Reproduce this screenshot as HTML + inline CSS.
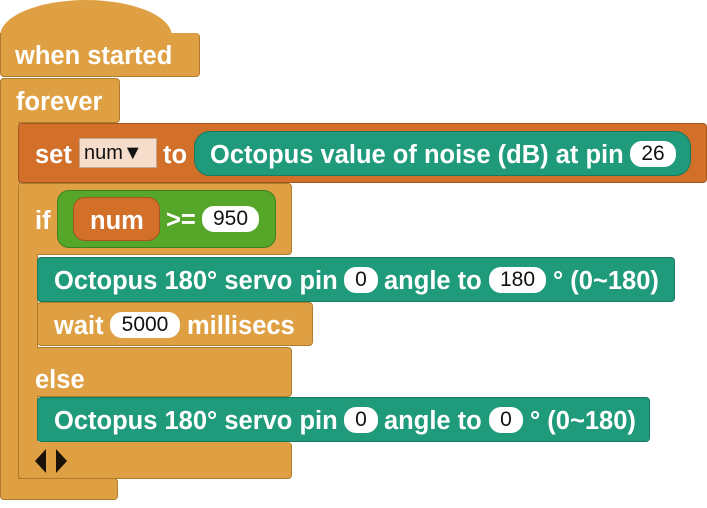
<!DOCTYPE html>
<html><head><meta charset="utf-8"><style>
body{margin:0;width:707px;height:508px;background:#fff;position:relative;overflow:hidden;font-family:"Liberation Sans",sans-serif;}
.b{position:absolute;box-sizing:border-box;}
.o{background:#DFA044;border:1px solid #B07B2C;border-radius:4px;}
.d{background:#D2702A;border:1px solid #A5561E;border-radius:4px;}
.t{background:#1F9A7A;border:1px solid #167A60;border-radius:4px;}
.t2{background:#1F9A7A;border:1px solid #167A60;border-radius:14px;}
.g{background:#55A629;border:1px solid #3F7F1E;border-radius:12px;}
.txt{position:absolute;color:#fff;font-weight:bold;font-size:25.5px;line-height:28px;white-space:nowrap;margin-top:2px;}
.pill{position:absolute;background:#fff;border-radius:12px;color:#111;font-size:21px;line-height:26px;text-align:center;}
</style></head><body>
<!-- shapes -->
<div class="b" style="left:0;top:0;width:172px;height:60px;background:#DFA044;border-radius:86px 86px 0 0/36px 36px 0 0;"></div>
<div class="b o" style="left:0;top:33px;width:200px;height:44px;border-top:none;border-radius:0 4px 4px 4px;"></div>
<div class="b o" style="left:0;top:78px;width:20px;height:422px;"></div>
<div class="b o" style="left:0;top:78px;width:120px;height:45px;"></div>
<div class="b o" style="left:0;top:478px;width:118px;height:22px;"></div>
<div class="b o" style="left:1px;top:100px;width:17px;height:395px;border:none;border-radius:0;"></div>
<div class="b d" style="left:18px;top:123px;width:689px;height:60px;"></div>
<div class="b t2" style="left:194px;top:131px;width:497px;height:45px;border-radius:16px;"></div>
<div class="b o" style="left:18px;top:183px;width:20px;height:296px;"></div>
<div class="b o" style="left:18px;top:183px;width:274px;height:72px;"></div>
<div class="b g" style="left:57px;top:190px;width:219px;height:58px;"></div>
<div class="b d" style="left:73px;top:197px;width:87px;height:44px;border-radius:12px;"></div>
<div class="b o" style="left:18px;top:347px;width:274px;height:50px;"></div>
<div class="b o" style="left:18px;top:442px;width:274px;height:37px;border-top:none;"></div>
<div class="b o" style="left:19px;top:184px;width:18px;height:292px;border:none;border-radius:0;"></div>
<div class="b t" style="left:37px;top:257px;width:638px;height:45px;"></div>
<div class="b o" style="left:37px;top:302px;width:276px;height:44px;"></div>
<div class="b t" style="left:37px;top:397px;width:613px;height:45px;"></div>

<!-- text -->
<div class="txt" style="left:15px;top:40px;">when started</div>
<div class="txt" style="left:16px;top:86px;">forever</div>
<div class="txt" style="left:35px;top:139px;">set</div>
<div class="b" style="left:79px;top:138px;width:78px;height:30px;background:#F5DCCB;border:1px solid #c9a890;color:#111;font-size:20px;line-height:28px;padding-left:4px;">num&#9660;</div>
<div class="txt" style="left:163px;top:139px;">to</div>
<div class="txt" style="left:210px;top:139px;">Octopus value of noise (dB) at pin</div>
<div class="pill" style="left:630px;top:141px;width:46px;">26</div>
<div class="txt" style="left:35px;top:205px;">if</div>
<div class="txt" style="left:90px;top:205px;">num</div>
<div class="txt" style="left:166px;top:204px;">&gt;=</div>
<div class="pill" style="left:202px;top:206px;width:57px;">950</div>
<div class="txt" style="left:54px;top:265px;">Octopus 180° servo pin</div>
<div class="pill" style="left:344px;top:267px;width:34px;">0</div>
<div class="txt" style="left:384px;top:265px;">angle to</div>
<div class="pill" style="left:489px;top:267px;width:57px;">180</div>
<div class="txt" style="left:553px;top:265px;">° (0~180)</div>
<div class="txt" style="left:54px;top:310px;">wait</div>
<div class="pill" style="left:110px;top:312px;width:70px;">5000</div>
<div class="txt" style="left:187px;top:310px;">millisecs</div>
<div class="txt" style="left:35px;top:364px;">else</div>
<div class="txt" style="left:54px;top:405px;">Octopus 180° servo pin</div>
<div class="pill" style="left:344px;top:407px;width:34px;">0</div>
<div class="txt" style="left:384px;top:405px;">angle to</div>
<div class="pill" style="left:489px;top:407px;width:34px;">0</div>
<div class="txt" style="left:530px;top:405px;">° (0~180)</div>
<svg class="b" style="left:34px;top:448px;" width="40" height="26"><polygon points="12,1 12,25 1,13" fill="#1a1208"/><polygon points="22,1 22,25 33,13" fill="#1a1208"/></svg>
</body></html>
